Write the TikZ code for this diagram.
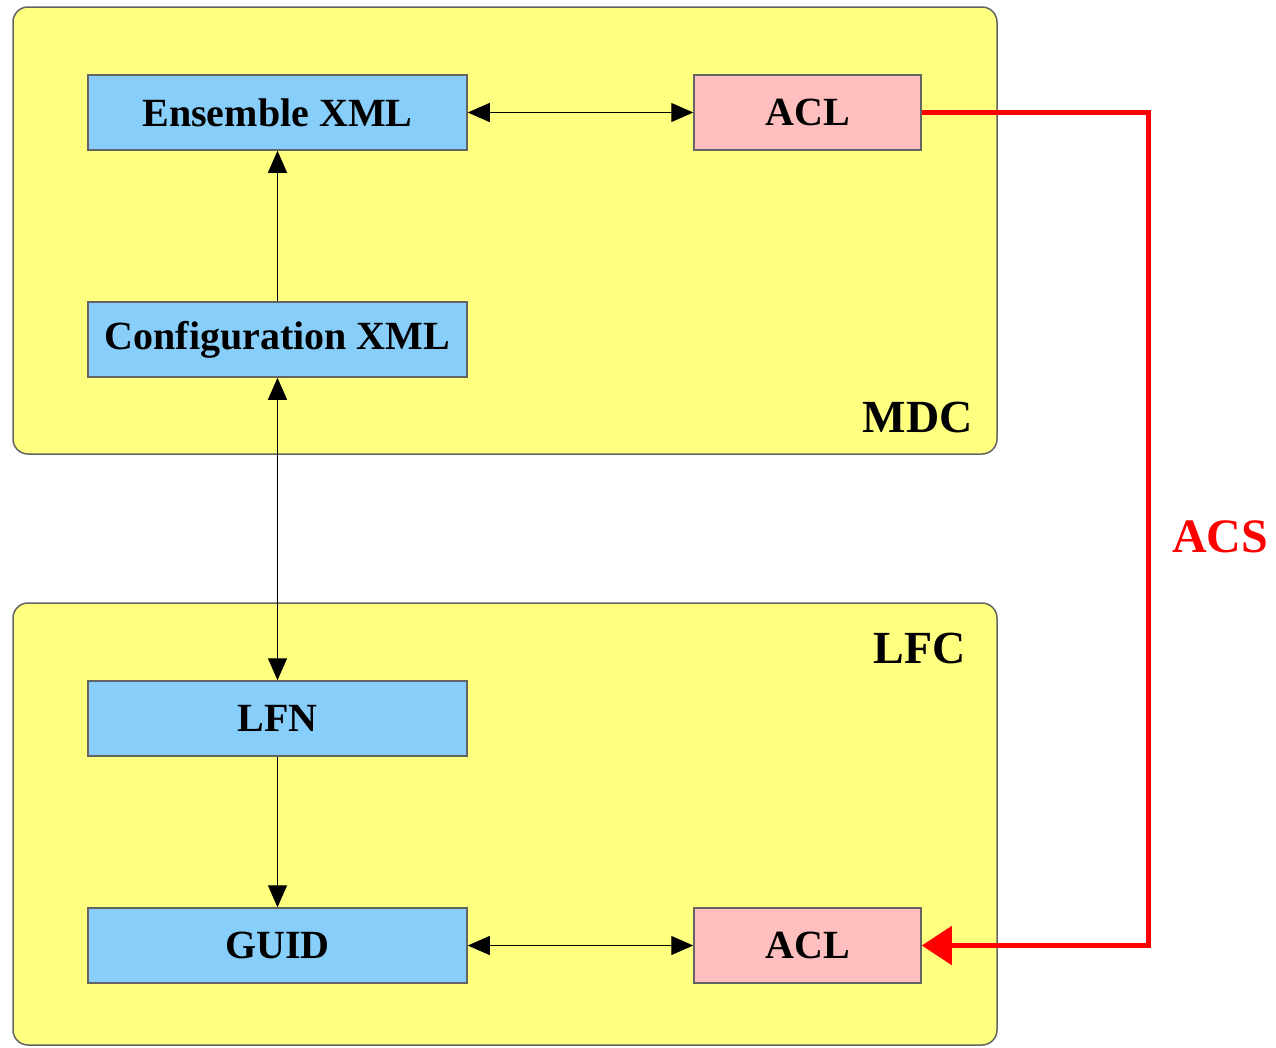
\documentclass[tikz,border=0pt]{standalone}
\usepackage{fontspec}
\setmainfont{Liberation Serif}
\usetikzlibrary{arrows.meta}
\definecolor{grpyellow}{RGB}{255,255,128}
\definecolor{boxblue}{RGB}{135,206,250}
\definecolor{boxpink}{RGB}{255,191,191}
\definecolor{edgegray}{RGB}{100,100,100}
\tikzset{
  group/.style={draw=edgegray, line width=1.5pt, fill=grpyellow, rounded corners=15pt},
  bluebox/.style={draw=edgegray, line width=1.5pt, fill=boxblue, minimum width=379pt, minimum height=75pt, inner sep=0pt, font=\fontsize{40}{48}\selectfont\bfseries},
  pinkbox/.style={draw=edgegray, line width=1.5pt, fill=boxpink, minimum width=227pt, minimum height=75pt, inner sep=0pt, font=\fontsize{40}{48}\selectfont\bfseries},
  grplabel/.style={inner sep=0pt, font=\fontsize{46}{52}\selectfont\bfseries},
  conn/.style={draw=black, line width=1.2pt, {Triangle[length=22pt,width=19pt]}-{Triangle[length=22pt,width=19pt]}},
  connto/.style={draw=black, line width=1.2pt, -{Triangle[length=22pt,width=19pt]}},
  acsline/.style={draw=red, line width=5pt, -{Triangle[length=30pt,width=38pt]}}
}
\begin{document}
\begin{tikzpicture}[x=1pt,y=-1pt]
\useasboundingbox (0,0) rectangle (1276,1047);
% groups
\path[group] (13,7) rectangle (997,454);
\path[group] (13,603) rectangle (997,1045);
\node[grplabel, anchor=base east] (mdc) at (973,432) {MDC};
\node[grplabel, anchor=base east] (lfc) at (966,663) {LFC};
% boxes
\node[bluebox] (ens) at (277.5,112.5) {Ensemble XML};
\node[pinkbox] (aclT) at (807.5,112.5) {ACL};
\node[bluebox] (conf) at (277.5,339.5) {Configuration XML};
\node[bluebox] (lfn) at (277.5,718.5) {LFN};
\node[bluebox] (guid) at (277.5,945.5) {GUID};
\node[pinkbox] (aclB) at (807.5,945.5) {ACL};
% connectors
\draw[conn] (ens) -- (aclT);
\draw[connto] (conf) -- (ens);
\draw[conn] (conf) -- (lfn);
\draw[connto] (lfn) -- (guid);
\draw[conn] (guid) -- (aclB);
% ACS
\coordinate (turnT) at (1148,112.5);
\draw[acsline] (aclT.east) -- (turnT) |- (aclB.east);
\node[inner sep=0pt, anchor=base west, text=red, font=\fontsize{48}{54}\selectfont\bfseries] (acs) at (1172,552) {ACS};
\end{tikzpicture}
\end{document}
